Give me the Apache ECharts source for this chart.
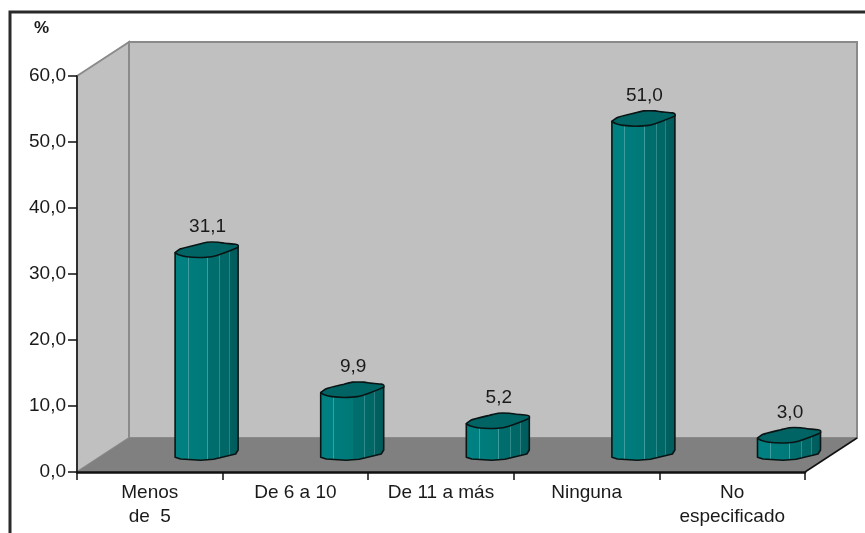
<!DOCTYPE html>
<html>
<head>
<meta charset="utf-8">
<style>html,body{margin:0;padding:0;background:#fff;overflow:hidden}#c{width:865px;height:533px}</style>
<script src="https://cdn.jsdelivr.net/npm/echarts@6/dist/echarts.min.js"></script>
</head>
<body>
<div id="c"></div>
<script>
var categories = ['Menos\nde  5', 'De 6 a 10', 'De 11 a más', 'Ninguna', 'No\nespecificado'];
var values = [31.1, 9.9, 5.2, 51.0, 3.0];
var yTicks = {min: 0, max: 60, interval: 10};

var DX = 52, DY = 34, BAR_DX = 56.8, F = 'Liberation Sans, Arial, sans-serif';
var topShape = [[-31.5,-14],[-26,-18],[-8,-22.5],[0,-24.5],[12,-24.5],[18,-23.5],[29,-22.5],[31.5,-21.5],[31.5,-19.5],[18,-14],[5,-10],[-8,-9.2],[-20,-10],[-28,-12]];
var baseShape = [[31.5,-22],[29,-18],[7,-12.7],[-6,-11.7],[-26,-13],[-31.5,-14.7]];

function off(p, cx, cy) { return [cx + p[0], cy + p[1]]; }

function bodyFill() {
  var L = '#3f9c9c';
  return new echarts.graphic.LinearGradient(0, 0, 1, 0, [
    {offset: 0, color: '#008080'}, {offset: .205, color: '#008080'},
    {offset: .205, color: L}, {offset: .22, color: L},
    {offset: .22, color: '#007c7c'}, {offset: .505, color: '#007878'},
    {offset: .505, color: L}, {offset: .52, color: L},
    {offset: .52, color: '#006e6e'}, {offset: .69, color: '#006c6c'},
    {offset: .69, color: '#2f8a8a'}, {offset: .705, color: '#2f8a8a'},
    {offset: .705, color: '#006868'}, {offset: .84, color: '#006666'},
    {offset: .84, color: '#2f8080'}, {offset: .855, color: '#2f8080'},
    {offset: .855, color: '#005f5f'}, {offset: 1, color: '#005c5c'}
  ]);
}

function renderWalls(params, api) {
  var c = params.coordSys;
  var l = c.x, r = c.x + c.width, t = c.y, b = c.y + c.height;
  var wall = {fill: '#c0c0c0', stroke: '#8a8a8a', lineWidth: 2, lineJoin: 'miter'};
  return {type: 'group', silent: true, children: [
    {type: 'polygon', shape: {points: [[l,t],[l+DX,t-DY],[l+DX,b-DY],[l,b]]}, style: wall},
    {type: 'rect', shape: {x: l+DX, y: t-DY, width: c.width, height: c.height}, style: wall},
    {type: 'polygon', shape: {points: [[l,b],[l+DX,b-DY],[r+DX,b-DY],[r,b]]}, style: {fill: '#808080', stroke: null}},
    {type: 'line', shape: {x1: r, y1: b, x2: r+DX, y2: b-DY}, style: {stroke: '#111', lineWidth: 1.5}}
  ]};
}

function renderBar(params, api) {
  var top = api.coord([api.value(0), api.value(1)]);
  var base = api.coord([api.value(0), 0]);
  var cx = top[0] + BAR_DX;
  var pts = [[cx - 31.5, top[1] - 14], [cx + 31.5, top[1] - 20.5]]
    .concat(baseShape.map(function (p) { return off(p, cx, base[1]); }));
  var lineStyle = {stroke: '#0a1414', lineWidth: 1.6, lineJoin: 'round'};
  return {type: 'group', children: [
    {type: 'polygon', shape: {points: pts}, style: Object.assign({fill: bodyFill()}, lineStyle)},
    {type: 'polygon', shape: {points: topShape.map(function (p) { return off(p, cx, top[1]); }), smooth: 0.1},
      style: Object.assign({fill: '#006464'}, lineStyle)},
    {type: 'text', x: cx + 1, y: top[1] - 39.5, style: {
      text: api.value(1).toFixed(1).replace('.', ','),
      font: '19px ' + F, fill: '#1a1a1a', align: 'center', verticalAlign: 'middle'}}
  ]};
}

var chart = echarts.init(document.getElementById('c'), null, {renderer: 'canvas'});
chart.setOption({
  animation: false,
  backgroundColor: '#fff',
  graphic: [{type: 'rect', z: -1, shape: {x: 10, y: 12, width: 900, height: 560},
    style: {fill: 'none', stroke: '#2a2a2a', lineWidth: 3}}],
  grid: {left: 77, right: 60, top: 76, bottom: 61},
  xAxis: {
    type: 'category', data: categories, z: 5,
    axisTick: {show: true, alignWithLabel: false, length: 8, lineStyle: {color: '#111', width: 1.5}},
    axisLine: {lineStyle: {color: '#111', width: 2.5}},
    axisLabel: {interval: 0, color: '#1a1a1a', fontFamily: F, fontSize: 19, lineHeight: 24, margin: 9}
  },
  yAxis: {
    type: 'value', min: yTicks.min, max: yTicks.max, interval: yTicks.interval, z: 5,
    name: '%', nameLocation: 'end', nameGap: 39,
    nameTextStyle: {color: '#1a1a1a', fontFamily: F, fontSize: 17, fontWeight: 'bold', align: 'right', padding: [0, 28, 0, 0]},
    splitLine: {show: false},
    axisLine: {show: true, lineStyle: {color: '#111', width: 1.5}},
    axisTick: {show: true, length: 9, lineStyle: {color: '#111', width: 1.5}},
    axisLabel: {color: '#1a1a1a', fontFamily: F, fontSize: 19, margin: 11,
      formatter: function (v) { return v.toFixed(1).replace('.', ','); }}
  },
  series: [
    {type: 'custom', z: 1, clip: false, silent: true, renderItem: renderWalls, data: [[0, 0]], encode: {x: 0, y: 1}},
    {type: 'custom', z: 3, clip: false, renderItem: renderBar, encode: {x: 0, y: 1},
      data: values.map(function (v, i) { return [i, v]; })}
  ]
});
</script>
</body>
</html>
